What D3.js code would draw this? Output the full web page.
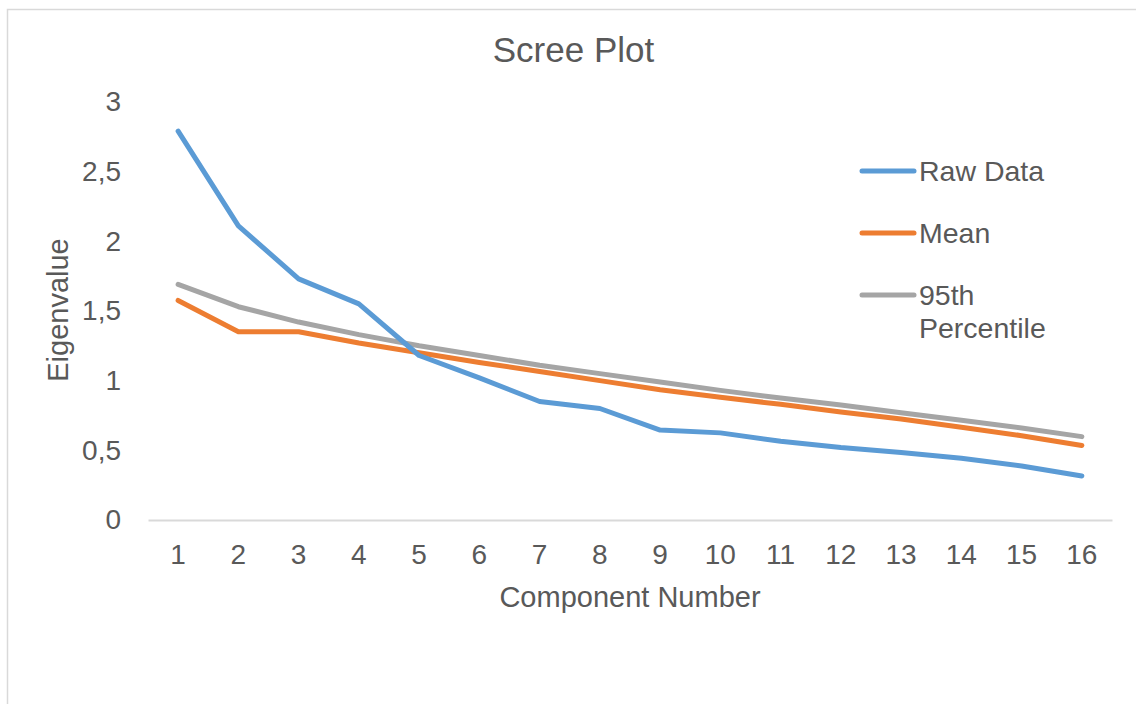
<!DOCTYPE html>
<html>
<head>
<meta charset="utf-8">
<script src="https://cdn.jsdelivr.net/npm/d3@7/dist/d3.min.js"></script>
<style>
  html, body { margin: 0; padding: 0; background: #fff; }
  svg { display: block; font-family: "Liberation Sans", Arial, sans-serif; }
</style>
</head>
<body>
<svg id="chart" width="1136" height="704"></svg>
<script>
const components = [1, 2, 3, 4, 5, 6, 7, 8, 9, 10, 11, 12, 13, 14, 15, 16];
const rawData = [2.79, 2.11, 1.73, 1.55, 1.18, 1.02, 0.85, 0.80, 0.645, 0.625, 0.565, 0.52, 0.485, 0.443, 0.387, 0.316];
const meanData = [1.575, 1.35, 1.35, 1.27, 1.20, 1.13, 1.065, 1.00, 0.935, 0.88, 0.83, 0.775, 0.725, 0.665, 0.605, 0.535];
const pct95Data = [1.69, 1.53, 1.42, 1.33, 1.25, 1.18, 1.11, 1.05, 0.99, 0.93, 0.875, 0.825, 0.77, 0.715, 0.66, 0.598];
const yTicks = [0, 0.5, 1, 1.5, 2, 2.5, 3];
const seriesNames = ["Raw Data", "Mean", "95th Percentile"];
const seriesColors = ["#5B9BD5", "#ED7D31", "#A5A5A5"];

const series = [
  { name: seriesNames[0], values: rawData, color: seriesColors[0] },
  { name: seriesNames[1], values: meanData, color: seriesColors[1] },
  { name: seriesNames[2], values: pct95Data, color: seriesColors[2] }
];

const svg = d3.select("#chart");
const textColor = "#595959";

// chart border
svg.append("rect")
  .attr("x", 7.5).attr("y", 9.5)
  .attr("width", 1140).attr("height", 720)
  .attr("fill", "#fff").attr("stroke", "#D9D9D9").attr("stroke-width", 1.5);

const x = d3.scaleBand().domain(components).range([148, 1112]);
const y = d3.scaleLinear().domain([0, 3]).range([520, 101.8]);

// title
svg.append("text")
  .attr("x", 573.5).attr("y", 62)
  .attr("text-anchor", "middle")
  .attr("font-size", 35).attr("fill", textColor)
  .text("Scree Plot");

// x axis
const xAxis = svg.append("g")
  .attr("transform", "translate(0,520)")
  .call(d3.axisBottom(x).tickSize(0).tickPadding(24));
xAxis.select(".domain").attr("stroke", "#D9D9D9").attr("stroke-width", 2);
xAxis.selectAll("text").attr("font-size", 28).attr("fill", textColor)
  .attr("font-family", "Liberation Sans, Arial, sans-serif");

// y axis
const yAxis = svg.append("g")
  .attr("transform", "translate(148,0)")
  .call(d3.axisLeft(y).tickValues(yTicks).tickSize(0).tickPadding(27)
    .tickFormat(d => String(d).replace(".", ",")));
yAxis.select(".domain").remove();
yAxis.selectAll("text").attr("font-size", 28).attr("fill", textColor)
  .attr("font-family", "Liberation Sans, Arial, sans-serif");

// axis titles
svg.append("text")
  .attr("x", 630).attr("y", 607)
  .attr("text-anchor", "middle")
  .attr("font-size", 29).attr("fill", textColor)
  .text("Component Number");

svg.append("text")
  .attr("transform", "translate(68,310) rotate(-90)")
  .attr("text-anchor", "middle")
  .attr("font-size", 29).attr("fill", textColor)
  .text("Eigenvalue");

// lines
const line = d3.line()
  .x((d, i) => x(components[i]) + x.bandwidth() / 2)
  .y(d => y(d));

svg.append("g").selectAll("path")
  .data(series.slice().reverse())
  .join("path")
  .attr("d", d => line(d.values))
  .attr("fill", "none")
  .attr("stroke", d => d.color)
  .attr("stroke-width", 5)
  .attr("stroke-linecap", "round")
  .attr("stroke-linejoin", "round");

// legend
const legendY = [171, 233, 295];
const legend = svg.append("g");
series.forEach((s, i) => {
  legend.append("line")
    .attr("x1", 862).attr("x2", 914)
    .attr("y1", legendY[i]).attr("y2", legendY[i])
    .attr("stroke", s.color).attr("stroke-width", 5)
    .attr("stroke-linecap", "round");
  const t = legend.append("text")
    .attr("x", 919).attr("y", legendY[i] + 10)
    .attr("font-size", 28.5).attr("fill", textColor);
  if (s.name === "95th Percentile") {
    t.append("tspan").attr("x", 919).text("95th");
    t.append("tspan").attr("x", 919).attr("dy", 33).text("Percentile");
  } else {
    t.text(s.name);
  }
});
</script>
</body>
</html>
